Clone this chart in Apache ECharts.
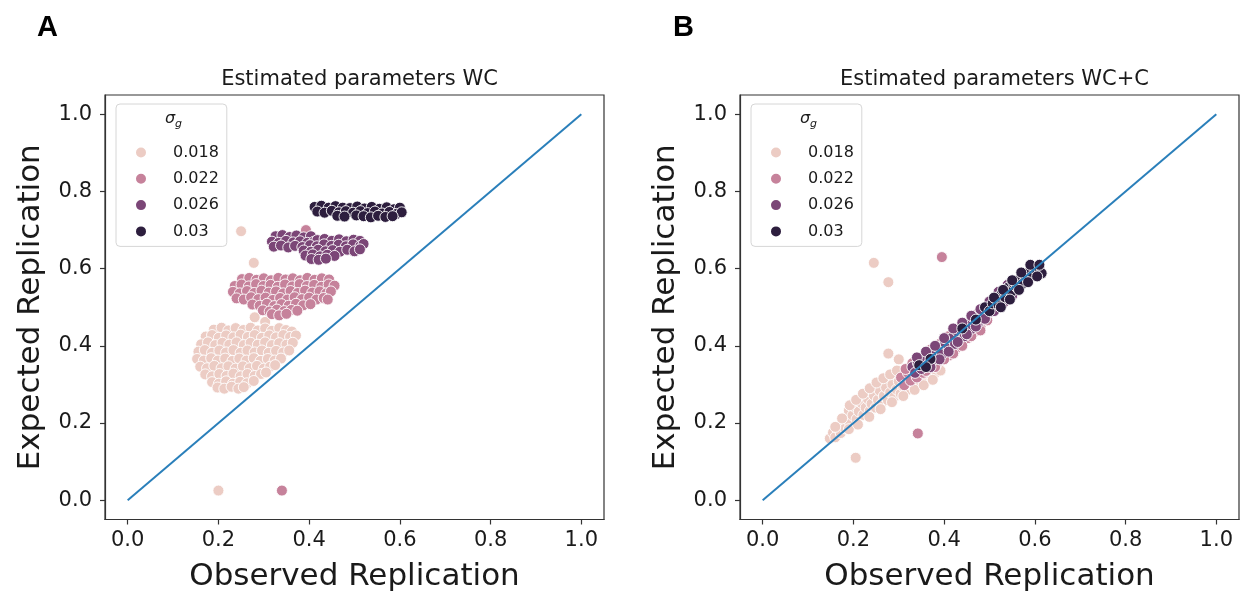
<!DOCTYPE html>
<html>
<head>
<meta charset="utf-8">
<script src="https://cdn.jsdelivr.net/npm/echarts@6/dist/echarts.min.js"></script>
<style>
  html, body { margin: 0; padding: 0; background: #fff; }
  #chart { width: 1242px; height: 594px; }
</style>
</head>
<body>
<div id="chart"></div>
<script>
// tick labels shared by both panels
const ticks = [0, 0.2, 0.4, 0.6, 0.8, 1.0]
const sigmaLevels = ['0.018', '0.022', '0.026', '0.03']
const panelTitles = ['Estimated parameters WC', 'Estimated parameters WC+C']
const panelLetters = ['A', 'B']
const identity = [[0, 0], [1, 1]]

// panel A (WC) points, per sigma_g level
const wc018 = [
  [0.20, 0.025], [0.25, 0.697], [0.278, 0.615], [0.28, 0.474], [0.303, 0.462],
  [0.19, 0.442], [0.207, 0.447], [0.222, 0.440], [0.238, 0.446], [0.255, 0.441], [0.271, 0.447], [0.287, 0.440], [0.303, 0.445], [0.318, 0.439], [0.334, 0.446], [0.349, 0.441], [0.362, 0.437],
  [0.172, 0.424], [0.186, 0.428], [0.201, 0.421], [0.217, 0.427], [0.233, 0.422], [0.249, 0.429], [0.265, 0.423], [0.280, 0.428], [0.296, 0.421], [0.312, 0.427], [0.327, 0.422], [0.343, 0.428], [0.358, 0.423], [0.371, 0.427],
  [0.162, 0.404], [0.177, 0.409], [0.193, 0.402], [0.209, 0.408], [0.224, 0.403], [0.240, 0.409], [0.256, 0.402], [0.271, 0.408], [0.287, 0.403], [0.303, 0.409], [0.318, 0.402], [0.334, 0.407], [0.350, 0.403], [0.364, 0.408],
  [0.156, 0.385], [0.170, 0.389], [0.186, 0.382], [0.202, 0.388], [0.217, 0.383], [0.233, 0.389], [0.249, 0.382], [0.264, 0.388], [0.280, 0.383], [0.296, 0.388], [0.311, 0.382], [0.327, 0.387], [0.343, 0.383], [0.356, 0.388],
  [0.153, 0.366], [0.168, 0.362], [0.184, 0.368], [0.199, 0.362], [0.215, 0.367], [0.231, 0.361], [0.246, 0.367], [0.262, 0.362], [0.278, 0.368], [0.293, 0.361], [0.309, 0.366], [0.324, 0.362], [0.338, 0.367],
  [0.160, 0.346], [0.175, 0.342], [0.191, 0.348], [0.207, 0.342], [0.222, 0.347], [0.238, 0.341], [0.254, 0.347], [0.269, 0.342], [0.285, 0.348], [0.300, 0.341], [0.314, 0.346], [0.325, 0.350],
  [0.171, 0.326], [0.186, 0.321], [0.202, 0.327], [0.218, 0.322], [0.233, 0.328], [0.249, 0.321], [0.264, 0.327], [0.280, 0.322], [0.294, 0.327], [0.305, 0.331],
  [0.186, 0.306], [0.201, 0.302], [0.217, 0.308], [0.232, 0.302], [0.248, 0.307], [0.263, 0.303], [0.278, 0.309],
  [0.198, 0.292], [0.213, 0.289], [0.229, 0.294], [0.244, 0.289], [0.256, 0.293]
]
const wc022 = [
  [0.34, 0.025], [0.393, 0.700],
  [0.252, 0.573], [0.268, 0.576], [0.284, 0.571], [0.300, 0.575], [0.316, 0.570], [0.332, 0.576], [0.348, 0.572], [0.364, 0.575], [0.380, 0.570], [0.396, 0.576], [0.412, 0.571], [0.428, 0.575], [0.444, 0.572],
  [0.236, 0.555], [0.251, 0.559], [0.267, 0.554], [0.283, 0.560], [0.299, 0.555], [0.315, 0.558], [0.331, 0.553], [0.347, 0.559], [0.363, 0.554], [0.379, 0.560], [0.395, 0.555], [0.411, 0.558], [0.427, 0.553], [0.443, 0.559], [0.456, 0.556],
  [0.232, 0.540], [0.247, 0.536], [0.263, 0.542], [0.279, 0.537], [0.295, 0.543], [0.311, 0.538], [0.327, 0.541], [0.343, 0.536], [0.359, 0.542], [0.375, 0.537], [0.391, 0.543], [0.407, 0.538], [0.423, 0.541], [0.438, 0.536], [0.448, 0.541],
  [0.240, 0.523], [0.256, 0.520], [0.272, 0.526], [0.288, 0.521], [0.304, 0.525], [0.320, 0.519], [0.336, 0.524], [0.352, 0.520], [0.368, 0.526], [0.384, 0.521], [0.400, 0.525], [0.416, 0.520], [0.432, 0.524], [0.441, 0.520],
  [0.275, 0.507], [0.291, 0.504], [0.307, 0.509], [0.323, 0.503], [0.339, 0.508], [0.355, 0.504], [0.371, 0.509], [0.387, 0.505], [0.403, 0.508],
  [0.298, 0.492], [0.313, 0.489], [0.329, 0.494], [0.345, 0.490], [0.361, 0.493], [0.374, 0.491],
  [0.318, 0.482], [0.334, 0.479], [0.350, 0.483]
]
const wc026 = [
  [0.326, 0.684], [0.341, 0.687], [0.357, 0.682], [0.372, 0.686], [0.388, 0.681], [0.404, 0.684],
  [0.318, 0.670], [0.333, 0.667], [0.349, 0.672], [0.365, 0.668], [0.380, 0.671], [0.396, 0.667], [0.411, 0.670],
  [0.322, 0.657], [0.338, 0.660], [0.354, 0.655], [0.369, 0.659], [0.385, 0.656],
  [0.418, 0.674], [0.434, 0.677], [0.450, 0.672], [0.466, 0.676], [0.482, 0.671], [0.498, 0.675], [0.512, 0.672],
  [0.402, 0.661], [0.417, 0.658], [0.433, 0.663], [0.449, 0.659], [0.465, 0.662], [0.481, 0.658], [0.497, 0.663], [0.513, 0.659], [0.520, 0.664],
  [0.388, 0.647], [0.404, 0.644], [0.420, 0.649], [0.436, 0.645], [0.452, 0.648], [0.468, 0.644], [0.484, 0.649], [0.500, 0.645], [0.512, 0.650],
  [0.392, 0.634], [0.408, 0.637], [0.424, 0.632], [0.440, 0.636], [0.456, 0.633],
  [0.405, 0.625], [0.421, 0.623], [0.437, 0.626]
]
const wc03 = [
  [0.412, 0.760], [0.427, 0.763], [0.443, 0.758], [0.458, 0.762], [0.474, 0.758], [0.490, 0.757], [0.506, 0.761], [0.522, 0.756], [0.538, 0.760], [0.555, 0.755], [0.571, 0.759], [0.587, 0.754], [0.600, 0.758],
  [0.418, 0.748], [0.434, 0.745], [0.450, 0.750], [0.466, 0.746], [0.481, 0.749], [0.497, 0.745], [0.513, 0.749], [0.529, 0.744], [0.545, 0.748], [0.561, 0.743], [0.577, 0.747], [0.593, 0.742], [0.604, 0.746],
  [0.462, 0.737], [0.478, 0.735], [0.504, 0.738], [0.520, 0.736], [0.536, 0.733], [0.552, 0.737], [0.568, 0.734], [0.584, 0.736]
]

// panel B (WC+C) points
const wcc018 = [
  [0.245, 0.615], [0.277, 0.565], [0.205, 0.110], [0.277, 0.380], [0.300, 0.365],
  [0.148, 0.160], [0.155, 0.175], [0.160, 0.163], [0.166, 0.186], [0.172, 0.174], [0.176, 0.198], [0.182, 0.186], [0.186, 0.212], [0.190, 0.232], [0.193, 0.198],
  [0.198, 0.220], [0.203, 0.242], [0.207, 0.210], [0.212, 0.230], [0.218, 0.252], [0.222, 0.221], [0.227, 0.240], [0.232, 0.262], [0.236, 0.231], [0.240, 0.250],
  [0.245, 0.272], [0.249, 0.240], [0.254, 0.260], [0.258, 0.284], [0.262, 0.250], [0.267, 0.270], [0.272, 0.292], [0.276, 0.259], [0.281, 0.279], [0.286, 0.300],
  [0.290, 0.268], [0.295, 0.287], [0.300, 0.308], [0.304, 0.276], [0.309, 0.296], [0.314, 0.316], [0.318, 0.285], [0.323, 0.304], [0.328, 0.322], [0.332, 0.294],
  [0.337, 0.312], [0.342, 0.330], [0.347, 0.302], [0.352, 0.320], [0.357, 0.338], [0.361, 0.311], [0.366, 0.328], [0.372, 0.320], [0.377, 0.340], [0.383, 0.332], [0.388, 0.352],
  [0.160, 0.190], [0.175, 0.212], [0.192, 0.246], [0.206, 0.260], [0.221, 0.276], [0.236, 0.290], [0.251, 0.305], [0.266, 0.316], [0.281, 0.326], [0.296, 0.336],
  [0.190, 0.184], [0.210, 0.196], [0.235, 0.216], [0.260, 0.236], [0.285, 0.254], [0.310, 0.270], [0.335, 0.286], [0.355, 0.298], [0.375, 0.312], [0.392, 0.336]
]
const wcc022 = [
  [0.342, 0.173], [0.395, 0.630],
  [0.305, 0.318], [0.312, 0.298], [0.320, 0.330], [0.326, 0.310], [0.334, 0.338], [0.340, 0.318], [0.348, 0.350], [0.354, 0.330], [0.362, 0.360], [0.368, 0.342],
  [0.376, 0.370], [0.383, 0.352], [0.390, 0.382], [0.397, 0.389], [0.404, 0.395], [0.410, 0.375], [0.418, 0.410], [0.424, 0.390], [0.432, 0.420], [0.438, 0.405],
  [0.446, 0.436], [0.452, 0.420], [0.460, 0.450], [0.467, 0.437], [0.474, 0.465], [0.480, 0.450], [0.488, 0.478], [0.495, 0.466], [0.502, 0.492],
  [0.315, 0.340], [0.330, 0.355], [0.350, 0.370], [0.370, 0.390], [0.390, 0.405], [0.410, 0.425], [0.430, 0.440], [0.450, 0.460], [0.470, 0.480],
  [0.360, 0.335], [0.380, 0.345], [0.400, 0.365], [0.420, 0.380], [0.440, 0.400], [0.460, 0.425], [0.480, 0.440]
]
const wcc026 = [
  [0.330, 0.345], [0.336, 0.330], [0.342, 0.356], [0.350, 0.340], [0.358, 0.370], [0.365, 0.352], [0.372, 0.382], [0.380, 0.366], [0.388, 0.395], [0.395, 0.378],
  [0.402, 0.408], [0.410, 0.392], [0.416, 0.420], [0.424, 0.405], [0.430, 0.436], [0.438, 0.440], [0.445, 0.425], [0.452, 0.458], [0.460, 0.444], [0.467, 0.470],
  [0.474, 0.458], [0.481, 0.484], [0.488, 0.472], [0.495, 0.500], [0.502, 0.488], [0.510, 0.514], [0.518, 0.502], [0.525, 0.530], [0.532, 0.517], [0.540, 0.545],
  [0.548, 0.535], [0.555, 0.556],
  [0.340, 0.370], [0.360, 0.385], [0.380, 0.400], [0.400, 0.420], [0.420, 0.445], [0.440, 0.460], [0.460, 0.478], [0.480, 0.495], [0.500, 0.515], [0.520, 0.540], [0.540, 0.558],
  [0.370, 0.345], [0.390, 0.365], [0.410, 0.385], [0.430, 0.410], [0.450, 0.430], [0.470, 0.450], [0.490, 0.470], [0.510, 0.490], [0.530, 0.510], [0.550, 0.530]
]
const wcc03 = [
  [0.345, 0.350], [0.370, 0.366], [0.360, 0.345], [0.440, 0.445], [0.470, 0.468], [0.490, 0.500], [0.500, 0.490], [0.507, 0.510], [0.515, 0.520], [0.520, 0.505],
  [0.527, 0.535], [0.535, 0.525], [0.540, 0.550], [0.548, 0.540], [0.553, 0.562], [0.560, 0.552], [0.566, 0.572], [0.572, 0.560], [0.578, 0.582], [0.584, 0.572],
  [0.590, 0.595], [0.596, 0.583], [0.600, 0.604], [0.605, 0.592], [0.610, 0.600], [0.615, 0.588],
  [0.510, 0.525], [0.530, 0.545], [0.550, 0.570], [0.570, 0.590], [0.590, 0.610], [0.525, 0.500], [0.545, 0.520], [0.565, 0.545], [0.585, 0.565], [0.605, 0.580], [0.610, 0.610]
]

const panels = [
  [wc018, wc022, wc026, wc03],
  [wcc018, wcc022, wcc026, wcc03]
]

const colors = ['#ecccc4', '#c6829b', '#7b4677', '#2d1e3e']
const font = 'DejaVu Sans'
const textColor = '#1a1a1a'
const gridLeft = [105, 740]
const gridW = 499
const gridTop = 95
const gridH = 424.5

const myChart = echarts.init(document.getElementById('chart'))

const grids = gridLeft.map((l) => ({
  left: l,
  top: gridTop,
  width: gridW,
  height: gridH,
  show: true,
  borderColor: '#333',
  borderWidth: 1.2,
  backgroundColor: 'transparent',
  containLabel: false,
  outerBoundsMode: 'none',
}))

const axisCommon = {
  type: 'value',
  min: -0.05,
  max: 1.05,
  nameLocation: 'middle',
  nameTextStyle: { fontSize: 31, color: textColor, fontFamily: font },
  axisLine: { show: true, onZero: false, lineStyle: { color: '#333', width: 1.2 } },
  axisTick: { show: true, length: 5, customValues: ticks, lineStyle: { color: '#333', width: 1.2 } },
  splitLine: { show: false },
}

const xAxes = [0, 1].map((i) => ({
  ...axisCommon,
  gridIndex: i,
  name: 'Observed Replication',
  nameGap: 42,
  axisLabel: {
    customValues: ticks,
    formatter: (v) => v.toFixed(1),
    fontSize: 21,
    margin: 11,
    color: textColor,
    fontFamily: font,
  },
}))

const yAxes = [0, 1].map((i) => ({
  ...axisCommon,
  gridIndex: i,
  name: 'Expected Replication',
  nameGap: 59,
  axisLabel: {
    customValues: ticks,
    formatter: (v) => v.toFixed(1),
    fontSize: 21,
    margin: 13,
    color: textColor,
    fontFamily: font,
  },
}))

const series = []
panels.forEach((groups, p) => {
  groups.forEach((pts, k) => {
    series.push({
      name: sigmaLevels[k],
      type: 'scatter',
      xAxisIndex: p,
      yAxisIndex: p,
      data: pts,
      symbolSize: 11,
      itemStyle: { color: colors[k], borderColor: '#fff', borderWidth: 0.9, opacity: 1 },
      z: 2 + k,
      animation: false,
    })
  })
  // y = x reference line
  series.push({
    type: 'line',
    xAxisIndex: p,
    yAxisIndex: p,
    data: identity,
    showSymbol: false,
    lineStyle: { color: '#2a7fba', width: 2 },
    z: 10,
    animation: false,
  })
})

const legends = gridLeft.map((l) => ({
  orient: 'vertical',
  left: l + 11,
  top: 104,
  data: sigmaLevels,
  icon: 'circle',
  itemWidth: 12,
  itemHeight: 12,
  itemGap: 10.3,
  padding: [40.5, 8, 7, 18],
  backgroundColor: 'rgba(255,255,255,0.8)',
  borderColor: '#d6d6d6',
  borderWidth: 1,
  borderRadius: 4,
  selectedMode: false,
  textStyle: { fontSize: 16, lineHeight: 16, color: textColor, fontFamily: font, padding: [0, 0, 0, 21] },
  z: 20,
}))

const titles = []
gridLeft.forEach((l, i) => {
  titles.push({
    text: panelTitles[i],
    left: l + gridW / 2,
    top: 64,
    textAlign: 'center',
    textStyle: { fontSize: 21, fontWeight: 'normal', color: textColor, fontFamily: font },
  })
  titles.push({
    text: panelLetters[i],
    left: i === 0 ? 32 : 668,
    top: 8,
    textStyle: { fontSize: 29, fontWeight: 'bold', color: '#000', fontFamily: 'Liberation Sans' },
  })
})

// legend title sigma_g
const graphics = []
gridLeft.forEach((l) => {
  graphics.push({
    type: 'text',
    left: l + 60,
    top: 111,
    z: 30,
    style: { text: 'σ', fontSize: 16, fontStyle: 'italic', fill: textColor, fontFamily: font },
  })
  graphics.push({
    type: 'text',
    left: l + 70,
    top: 119,
    z: 30,
    style: { text: 'g', fontSize: 11, fontStyle: 'italic', fill: textColor, fontFamily: font },
  })
})

const option = {
  backgroundColor: '#fff',
  animation: false,
  title: titles,
  legend: legends,
  grid: grids,
  xAxis: xAxes,
  yAxis: yAxes,
  series: series,
  graphic: graphics,
}

myChart.setOption(option)
</script>
</body>
</html>
